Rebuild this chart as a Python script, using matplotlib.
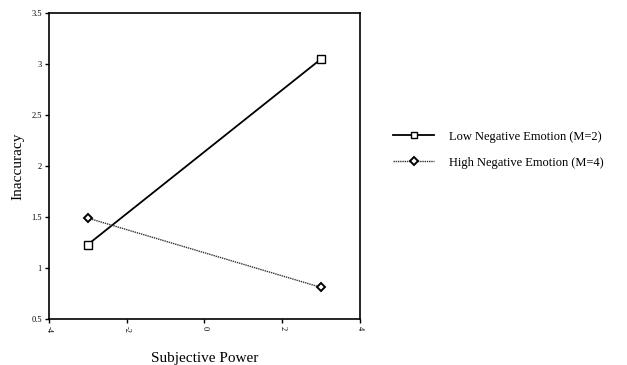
import matplotlib
matplotlib.use("Agg")
import matplotlib.pyplot as plt
from matplotlib.lines import Line2D

plt.rcParams['font.family'] = ['Liberation Serif', 'DejaVu Serif']

x_vals = [-3, 3]
low_neg = [1.23, 3.05]
high_neg = [1.49, 0.81]
series_labels = ["Low Negative Emotion (M=2)", "High Negative Emotion (M=4)"]
xticks = [-4, -2, 0, 2, 4]
yticks = [0.5, 1, 1.5, 2, 2.5, 3, 3.5]
ytick_labels = ["0.5", "1", "1.5", "2", "2.5", "3", "3.5"]

fig = plt.figure(figsize=(6.27, 3.65), dpi=100)
ax = fig.add_axes([0.078, 0.126, 0.496, 0.838])

ax.plot(x_vals, low_neg, color='black', lw=1.3, marker='s', markersize=5.5,
        markerfacecolor='white', markeredgecolor='black', markeredgewidth=1.0)
ax.plot(x_vals, high_neg, color='#333333', lw=1.0, ls=(0, (1, 0.6)), marker='D', markersize=4.2,
        markerfacecolor='white', markeredgecolor='black', markeredgewidth=1.4)

ax.set_xlim(-4, 4)
ax.set_ylim(0.5, 3.5)
ax.set_xticks(xticks)
ax.set_xticklabels([str(t) for t in xticks], rotation=270, fontsize=6)
ax.set_yticks(yticks)
ax.set_yticklabels(ytick_labels, fontsize=6)
ax.tick_params(direction='out', length=3, width=1, pad=2)
for s in ax.spines.values():
    s.set_linewidth(1.2)

ax.set_ylabel("Inaccuracy", fontsize=11, labelpad=5)
ax.set_xlabel("Subjective Power", fontsize=11, labelpad=14)

handles = [
    Line2D([], [], color='black', lw=1.3, marker='s', markersize=5,
           markerfacecolor='white', markeredgecolor='black'),
    Line2D([], [], color='#333333', lw=1.0, ls=(0, (1, 0.6)), marker='D', markersize=4,
           markerfacecolor='white', markeredgecolor='black', markeredgewidth=1.4),
]
fig.legend(handles, series_labels, loc='center left', bbox_to_anchor=(0.609, 0.59),
           frameon=False, fontsize=9, handlelength=3.3, labelspacing=1.1, handletextpad=1.2)

fig.savefig("out.png", dpi=100, facecolor='white')
